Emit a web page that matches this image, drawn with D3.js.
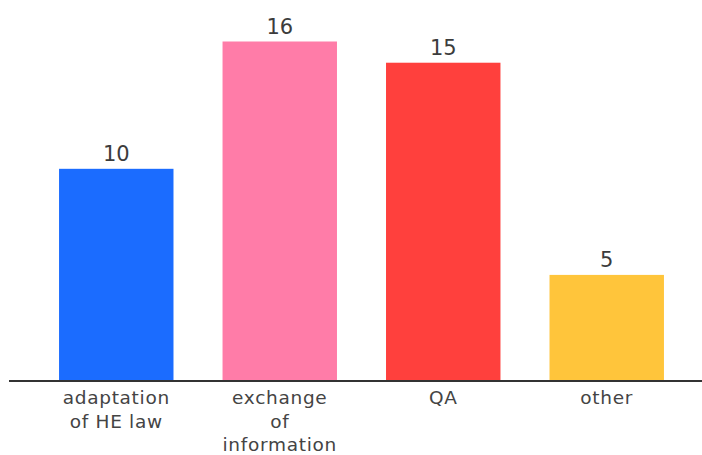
<!DOCTYPE html>
<html><head><meta charset="utf-8">
<script src="https://cdn.jsdelivr.net/npm/d3@7"></script>
<style>html,body{margin:0;padding:0;background:#fff;}svg{display:block;}</style>
</head><body>
<svg id="chart" width="702" height="455"></svg>
<script>
const categories = ["adaptation of HE law", "exchange of information", "QA", "other"];
const labelLines = [["adaptation", "of HE law"], ["exchange", "of", "information"], ["QA"], ["other"]];
const values = [10, 16, 15, 5];
const colors = ["#1b6cff", "#ff7ca8", "#ff403d", "#ffc53b"];

const svg = d3.select("#chart");
const baseY = 381;
const x = d3.scaleBand().domain(categories).range([10, 713]).paddingInner(0.3).paddingOuter(0.3);
const y = d3.scaleLinear().domain([0, 16]).range([baseY, 41.5]);
const font = "'DejaVu Sans', Inter, sans-serif";

svg.selectAll("rect.bar").data(values).join("rect")
  .attr("class", "bar")
  .attr("x", (d, i) => x(categories[i]))
  .attr("width", x.bandwidth())
  .attr("y", d => y(d))
  .attr("height", d => baseY - y(d))
  .attr("fill", (d, i) => colors[i]);

svg.selectAll("text.val").data(values).join("text")
  .attr("class", "val")
  .attr("x", (d, i) => x(categories[i]) + x.bandwidth() / 2)
  .attr("y", d => y(d) - 8)
  .attr("text-anchor", "middle")
  .attr("font-family", font)
  .attr("font-size", 21)
  .attr("fill", "#3c3c3c")
  .text(d => d);

const axis = d3.axisBottom(x).tickSize(0).tickFormat("");
const gx = svg.append("g").attr("transform", `translate(0,${baseY})`).call(axis);
gx.select(".domain").attr("d", "M9,0H702").attr("stroke", "#333").attr("stroke-width", 2);

categories.forEach((c, i) => {
  const t = svg.append("text")
    .attr("x", x(c) + x.bandwidth() / 2)
    .attr("y", 405)
    .attr("text-anchor", "middle")
    .attr("font-family", font)
    .attr("font-size", 18.5)
    .attr("letter-spacing", 0.7)
    .attr("fill", "#444");
  labelLines[i].forEach((l, j) => {
    t.append("tspan").attr("x", x(c) + x.bandwidth() / 2).attr("y", 404 + j * 23.5).text(l);
  });
});
</script>
</body></html>
